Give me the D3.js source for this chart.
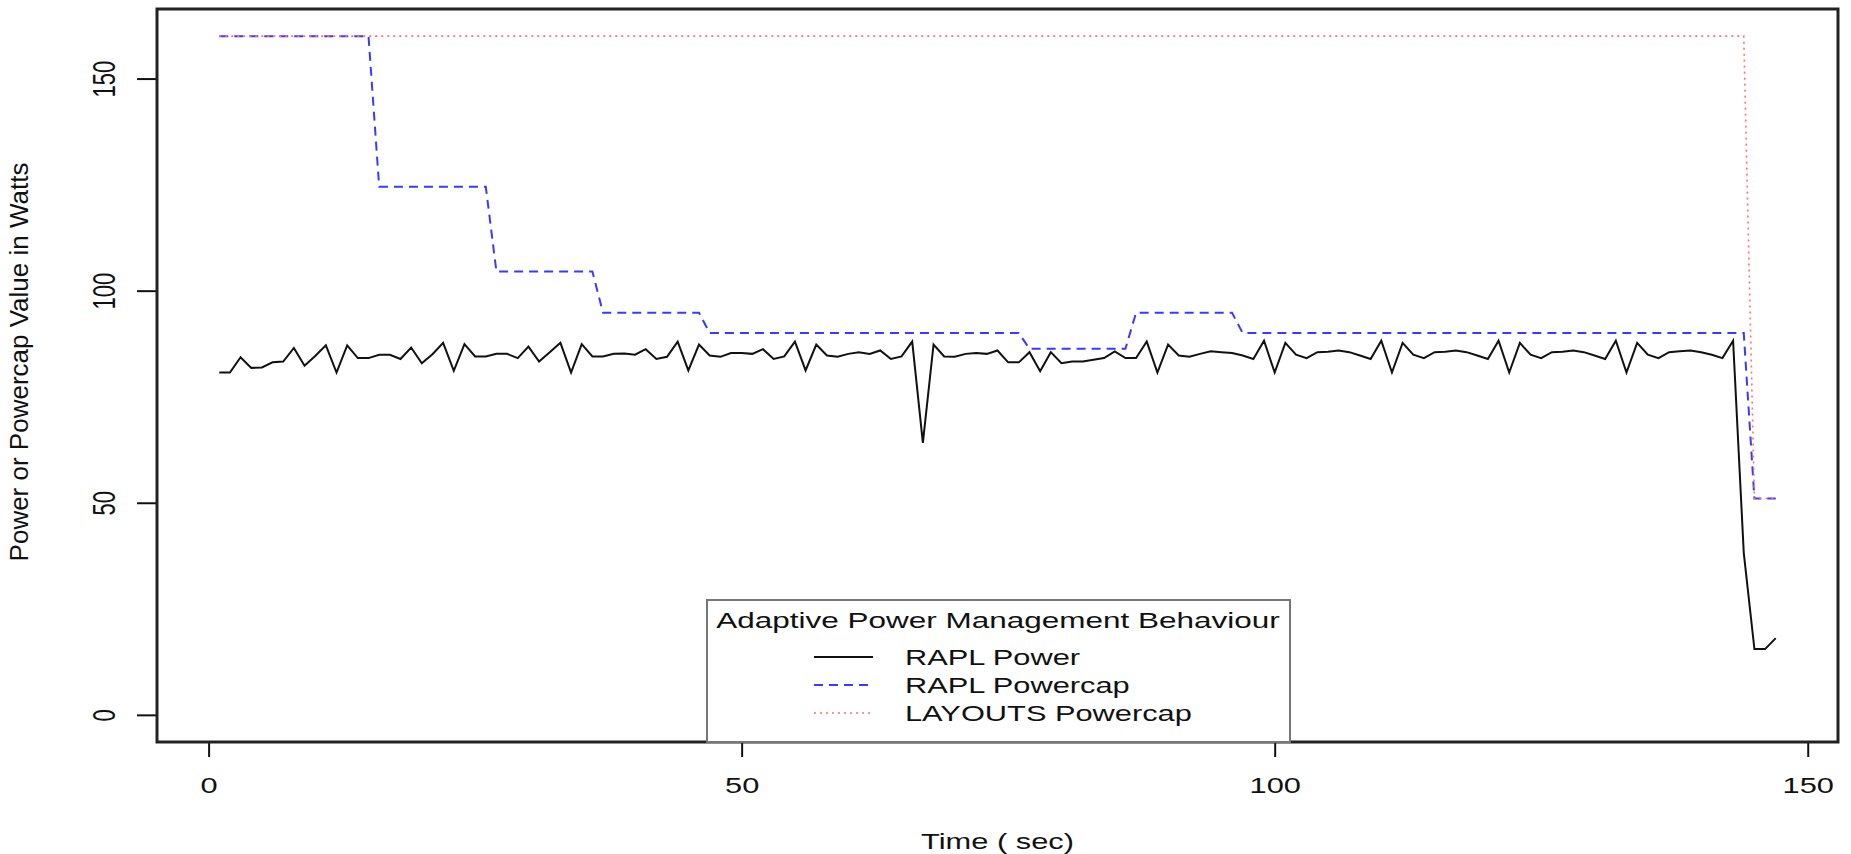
<!DOCTYPE html>
<html>
<head>
<meta charset="utf-8">
<title>Adaptive Power Management Behaviour</title>
<script src="https://d3js.org/d3.v7.min.js"></script>
<style>
  body { margin: 0; background: #fff; }
  text { font-family: "Liberation Sans", Arial, Helvetica, sans-serif; fill: #111; }
</style>
</head>
<body>
<svg width="1851" height="854"></svg>
<script>
// time axis (seconds) and measured package power
var timeSec = d3.range(1, 148);
var raplPower = [
  80.7, 80.7, 84.3, 81.8, 81.9, 83.1, 83.3, 86.5, 82.3, 84.6,
  87.1, 80.7, 87.1, 84.1, 84.1, 84.9, 84.9, 83.9, 86.6, 82.9,
  85.0, 87.7, 81.1, 87.4, 84.5, 84.5, 85.1, 85.1, 84.1, 86.8,
  83.3, 85.5, 87.7, 80.7, 87.4, 84.5, 84.5, 85.1, 85.2, 84.9,
  86.2, 83.9, 84.4, 88.0, 81.2, 87.3, 84.7, 84.4, 85.3, 85.3,
  85.1, 86.2, 83.9, 84.5, 88.0, 81.2, 87.3, 84.7, 84.4, 85.1,
  85.5, 85.1, 85.9, 83.9, 84.5, 88.0, 64.1, 87.3, 84.5, 84.4,
  85.1, 85.3, 85.1, 85.9, 83.1, 83.1, 85.5, 81.0, 85.5, 82.9,
  83.3, 83.3, 83.7, 84.1, 85.7, 84.1, 84.1, 88.0, 80.7, 87.3,
  84.7, 84.4, 85.1, 85.7, 85.5, 85.3, 84.7, 83.9, 88.2, 80.7,
  87.7, 84.9, 84.1, 85.5, 85.6, 85.9, 85.5, 84.7, 83.9, 88.2,
  80.7, 87.7, 84.9, 84.1, 85.5, 85.6, 85.9, 85.5, 84.7, 83.9,
  88.2, 80.7, 87.7, 84.9, 84.1, 85.5, 85.6, 85.9, 85.5, 84.7,
  83.9, 88.2, 80.7, 87.7, 84.9, 84.1, 85.5, 85.7, 85.9, 85.5,
  84.9, 84.1, 88.2, 38.2, 15.5, 15.5, 18.1
];

// powercap changes (time, watts) -- the line runs straight between them
var raplCapTime  = [1, 15, 16, 26, 27, 36, 37, 46, 47, 76, 77, 86, 87, 96, 97, 144, 145, 147];
var raplCapWatts = [160, 160, 124.5, 124.5, 104.5, 104.5, 94.8, 94.8, 90, 90, 86.3, 86.3, 94.8, 94.8, 90, 90, 51, 51];
var layoutsCapTime  = [1, 144, 145, 147];
var layoutsCapWatts = [160, 160, 51, 51];

var xTicks = [0, 50, 100, 150];
var yTicks = [0, 50, 100, 150];
var yLimits = [0, 160];
var legendLabels = ["RAPL Power", "RAPL Powercap", "LAYOUTS Powercap"];

var plotLeft = 157, plotRight = 1838, plotTop = 9, plotBottom = 742;
var stretch = 1.4;
var fontSize = 22;

var svg = d3.select("svg");

// R style 4% padding on both axes
var xExt = d3.extent(timeSec), xPad = (xExt[1] - xExt[0]) * 0.04;
var yPad = (yLimits[1] - yLimits[0]) * 0.04;

var x = d3.scaleLinear()
  .domain([xExt[0] - xPad, xExt[1] + xPad])
  .range([plotLeft, plotRight]);
var y = d3.scaleLinear()
  .domain([yLimits[0] - yPad, yLimits[1] + yPad])
  .range([plotBottom, plotTop]);

var line = d3.line()
  .x(function(d) { return x(d[0]); })
  .y(function(d) { return y(d[1]); });

var series = [
  { pts: d3.zip(timeSec, raplPower), color: "#111", width: 2, dash: null },
  { pts: d3.zip(raplCapTime, raplCapWatts), color: "#3a3aff", width: 2, dash: "9,6" },
  { pts: d3.zip(layoutsCapTime, layoutsCapWatts), color: "#ff7070", width: 1.6, dash: "2,4" }
];

svg.selectAll(".series")
  .data(series)
  .enter().append("path")
  .attr("class", "series")
  .attr("d", function(d) { return line(d.pts); })
  .attr("fill", "none")
  .attr("stroke", function(d) { return d.color; })
  .attr("stroke-width", function(d) { return d.width; })
  .attr("stroke-dasharray", function(d) { return d.dash; });

// axes
var xAxis = d3.axisBottom(x).tickValues(xTicks).tickSize(15).tickFormat(d3.format("d"));
var gx = svg.append("g")
  .attr("transform", "translate(0," + plotBottom + ")")
  .call(xAxis);
gx.select(".domain").remove();
gx.selectAll(".tick line").attr("stroke", "#111").attr("stroke-width", 2);
gx.selectAll(".tick text")
  .attr("y", null).attr("dy", null)
  .attr("transform", "translate(0,51) scale(" + stretch + ",1)")
  .attr("font-size", fontSize)
  .attr("fill", "#111");

var yAxis = d3.axisLeft(y).tickValues(yTicks).tickSize(20).tickFormat(d3.format("d"));
var gy = svg.append("g")
  .attr("transform", "translate(" + plotLeft + ",0)")
  .call(yAxis);
gy.select(".domain").remove();
gy.selectAll(".tick line").attr("stroke", "#111").attr("stroke-width", 2);
gy.selectAll(".tick text")
  .attr("x", null).attr("dy", null)
  .attr("text-anchor", "middle")
  .attr("transform", "translate(-42,0) scale(" + stretch + ",1) rotate(-90)")
  .attr("font-size", fontSize)
  .attr("fill", "#111");

// plot frame
svg.append("rect")
  .attr("x", plotLeft).attr("y", plotTop)
  .attr("width", plotRight - plotLeft).attr("height", plotBottom - plotTop)
  .attr("fill", "none")
  .attr("stroke", "#222")
  .attr("stroke-width", 3);

// axis titles
svg.append("text")
  .attr("text-anchor", "middle")
  .attr("font-size", fontSize)
  .attr("transform", "translate(" + ((plotLeft + plotRight) / 2) + ",849) scale(" + stretch + ",1)")
  .text("Time ( sec)");

svg.append("text")
  .attr("text-anchor", "middle")
  .attr("font-size", 26)
  .attr("transform", "translate(28,362) rotate(-90)")
  .text("Power or Powercap Value in Watts");

// legend
var legend = svg.append("g");
legend.append("rect")
  .attr("x", 707).attr("y", 600)
  .attr("width", 583).attr("height", 142)
  .attr("fill", "#fff")
  .attr("stroke", "#777")
  .attr("stroke-width", 2);

legend.append("text")
  .attr("text-anchor", "middle")
  .attr("font-size", 22.5)
  .attr("transform", "translate(998,628) scale(" + stretch + ",1)")
  .text("Adaptive Power Management Behaviour");

var items = legend.selectAll(".item")
  .data(legendLabels)
  .enter().append("g")
  .attr("class", "item")
  .attr("transform", function(d, i) { return "translate(0," + (657 + i * 28) + ")"; });

items.append("line")
  .attr("x1", 814).attr("x2", 873)
  .attr("stroke", function(d, i) { return series[i].color; })
  .attr("stroke-width", function(d, i) { return series[i].width; })
  .attr("stroke-dasharray", function(d, i) { return series[i].dash; });

items.append("text")
  .attr("font-size", fontSize)
  .attr("transform", "translate(905,8) scale(" + stretch + ",1)")
  .text(function(d) { return d; });
</script>
</body>
</html>
